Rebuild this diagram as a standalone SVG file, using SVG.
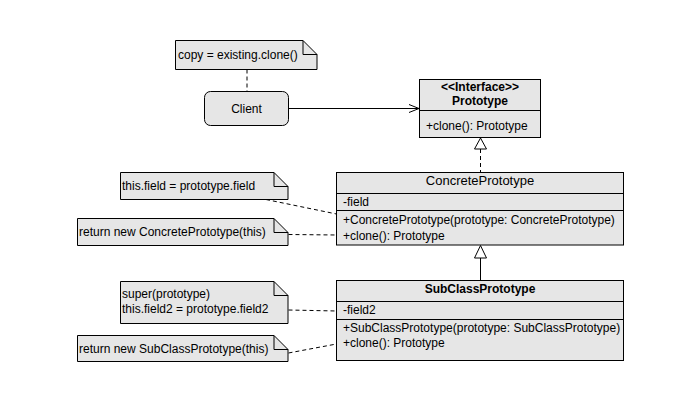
<svg xmlns="http://www.w3.org/2000/svg" width="700" height="400" viewBox="0 0 700 400">
<style>
text{font-family:"Liberation Sans",Arial,Helvetica,sans-serif;font-size:12px;fill:#000}
.b{font-weight:bold}
.c{text-anchor:middle}
.box{fill:#e6e6e6;stroke:#000;stroke-width:1}
.fold{fill:none;stroke:#000;stroke-width:1}
.ln{fill:none;stroke:#000;stroke-width:1}
.dash{fill:none;stroke:#000;stroke-width:1;stroke-dasharray:4 3}
</style>
<rect width="700" height="400" fill="#fff"/>
<g id="connectors">
<line class="dash" x1="247" y1="69.5" x2="247" y2="91"/>
<line class="ln" x1="288" y1="108.5" x2="419" y2="108.5"/>
<polyline class="ln" points="409,104.5 419,108.5 409,112.5"/>
<line class="dash" x1="480.5" y1="149" x2="480.5" y2="172.5"/>
<polygon points="480.5,138 474.5,149 486.5,149" fill="#fff" stroke="#000"/>
<line class="ln" x1="480.5" y1="258" x2="480.5" y2="280.5"/>
<polygon points="480.5,245.5 474.5,258 486.5,258" fill="#fff" stroke="#000"/>
<line class="dash" x1="266" y1="199.5" x2="336.5" y2="214"/>
<line class="dash" x1="288.5" y1="234.5" x2="336.5" y2="235"/>
<line class="dash" x1="288.5" y1="310" x2="336.5" y2="311"/>
<line class="dash" x1="288.5" y1="353" x2="336.5" y2="344"/>
</g>
<g id="note-copy">
<path class="box" d="M175.5,40.5 H303 L317,54.5 V69.5 H175.5 Z"/>
<path class="fold" d="M303,40.5 V54.5 H317"/>
<text x="178" y="59">copy = existing.clone()</text>
</g>
<g id="client">
<rect class="box" x="204.5" y="91.5" width="84" height="34" rx="6"/>
<text class="c" x="246.5" y="112.5">Client</text>
</g>
<g id="prototype">
<rect class="box" x="419.5" y="79.5" width="121" height="58"/>
<line class="ln" x1="419.5" y1="110.5" x2="540.5" y2="110.5"/>
<text class="b c" x="480" y="91">&lt;&lt;Interface&gt;&gt;</text>
<text class="b c" x="480" y="105">Prototype</text>
<text x="426" y="129.5">+clone(): Prototype</text>
</g>
<g id="concrete-prototype">
<rect class="box" x="336.5" y="172.5" width="287" height="72.5"/>
<line class="ln" x1="336.5" y1="193.5" x2="623.5" y2="193.5"/>
<line class="ln" x1="336.5" y1="210.5" x2="623.5" y2="210.5"/>
<text class="c" x="480" y="184.5" style="font-size:13px">ConcretePrototype</text>
<text x="343" y="205.5">-field</text>
<text x="343" y="223.5">+ConcretePrototype(prototype: ConcretePrototype)</text>
<text x="343" y="239.5">+clone(): Prototype</text>
</g>
<g id="subclass-prototype">
<rect class="box" x="336.5" y="280.5" width="287" height="80"/>
<line class="ln" x1="336.5" y1="301.5" x2="623.5" y2="301.5"/>
<line class="ln" x1="336.5" y1="319.5" x2="623.5" y2="319.5"/>
<text class="b c" x="480" y="292.5">SubClassPrototype</text>
<text x="343" y="314">-field2</text>
<text x="343" y="331.5">+SubClassPrototype(prototype: SubClassPrototype)</text>
<text x="343" y="346.5">+clone(): Prototype</text>
</g>
<g id="note-field">
<path class="box" d="M120.5,172.5 H274 L288,186.5 V199.5 H120.5 Z"/>
<path class="fold" d="M274,172.5 V186.5 H288"/>
<text x="122" y="190">this.field = prototype.field</text>
</g>
<g id="note-concrete-clone">
<path class="box" d="M77.5,218.5 H274 L288,232.5 V245.5 H77.5 Z"/>
<path class="fold" d="M274,218.5 V232.5 H288"/>
<text x="79" y="236">return new ConcretePrototype(this)</text>
</g>
<g id="note-super">
<path class="box" d="M120.5,281.5 H274 L288,295.5 V323.5 H120.5 Z"/>
<path class="fold" d="M274,281.5 V295.5 H288"/>
<text x="122" y="298">super(prototype)</text>
<text x="122" y="313">this.field2 = prototype.field2</text>
</g>
<g id="note-subclass-clone">
<path class="box" d="M77.5,335.5 H274 L288,349.5 V361.5 H77.5 Z"/>
<path class="fold" d="M274,335.5 V349.5 H288"/>
<text x="79" y="352.5">return new SubClassPrototype(this)</text>
</g>
</svg>
